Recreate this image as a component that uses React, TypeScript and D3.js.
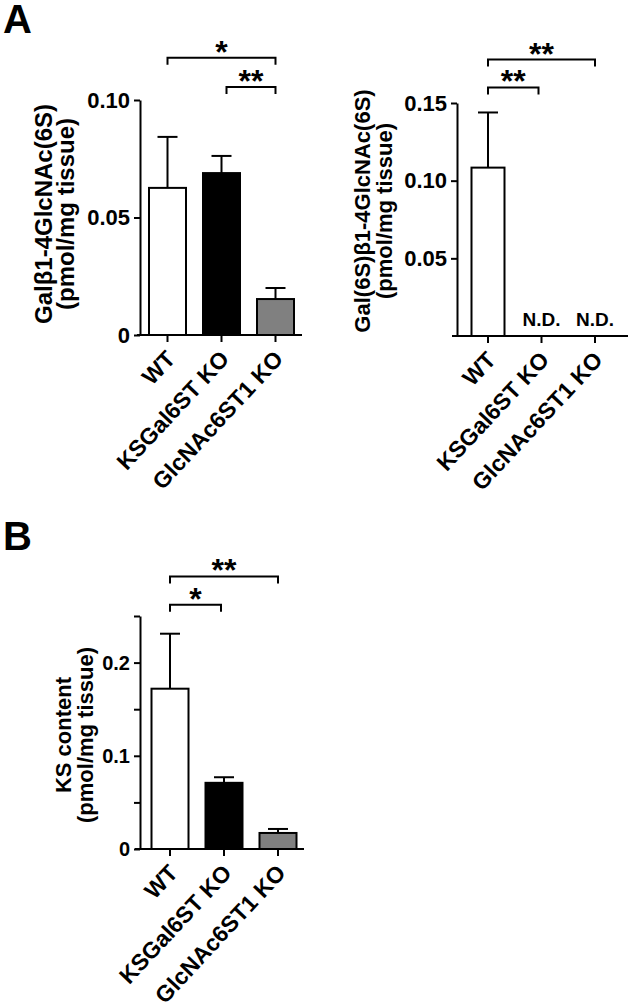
import { useEffect, useRef } from 'react';
import * as d3 from 'd3';

const groups = ['WT', 'KSGal6ST KO', 'GlcNAc6ST1 KO'];
const barFills = ['#ffffff', '#000000', '#808080'];

// Gal-GlcNAc(6S)
const galMeans = [0.0626, 0.0689, 0.0153];
const galErrors = [0.0217, 0.0073, 0.0047];
const galTicks = [0, 0.05, 0.1];
const galBrackets = [
    { from: 0, to: 2, label: '*', level: 0.118 },
    { from: 1, to: 2, label: '**', level: 0.1055 },
];

// Gal(6S)-GlcNAc(6S), not detected in the KO mice
const gal6sMeans = [0.1084, null, null];
const gal6sErrors = [0.0355, null, null];
const gal6sTicks = [0.05, 0.1, 0.15];
const gal6sBrackets = [
    { from: 0, to: 2, label: '**', level: 0.178 },
    { from: 0, to: 1, label: '**', level: 0.16 },
];

// KS content
const ksMeans = [0.172, 0.071, 0.0172];
const ksErrors = [0.059, 0.006, 0.0043];
const ksTicks = [0, 0.05, 0.1, 0.15, 0.2, 0.25];
const ksTickLabels = [0, 0.1, 0.2];
const ksBrackets = [
    { from: 0, to: 2, label: '**', level: 0.2925 },
    { from: 0, to: 1, label: '*', level: 0.262 },
];

const FONT = '"Liberation Sans", Arial, Helvetica, sans-serif';

const drawPanel = (svg, p) => {
    const g = svg.append('g');
    const y = d3.scaleLinear().domain(p.yDomain).range(p.yRange);
    const x = d3.scalePoint().domain(groups).range(p.xRange);
    const base = y(0);

    // y axis
    const yAxis = g.append('g')
        .attr('transform', `translate(${p.axisX}, 0)`)
        .call(d3.axisLeft(y)
            .tickValues(p.ticks)
            .tickSize(6)
            .tickSizeOuter(0)
            .tickPadding(4)
            .tickFormat(d => (p.labels.includes(d) ? p.fmt(d) : '')));
    yAxis.select('.domain').attr('stroke-width', 2);
    yAxis.selectAll('line').attr('stroke-width', 2);
    yAxis.selectAll('text')
        .attr('font-family', FONT)
        .attr('font-weight', 'bold')
        .attr('font-size', p.tickFont)
        .attr('fill', '#000');

    // x axis line + ticks
    g.append('line')
        .attr('x1', p.xLine[0]).attr('x2', p.xLine[1])
        .attr('y1', base).attr('y2', base)
        .attr('stroke', '#000').attr('stroke-width', 2);
    g.selectAll('.xtick')
        .data(groups)
        .enter()
        .append('line')
        .attr('x1', d => x(d)).attr('x2', d => x(d))
        .attr('y1', base).attr('y2', base + 7)
        .attr('stroke', '#000').attr('stroke-width', 2);
    g.selectAll('.xlabel')
        .data(groups)
        .enter()
        .append('text')
        .attr('transform', d => `translate(${x(d) + 9}, ${base + 25}) rotate(-47)`)
        .attr('text-anchor', 'end')
        .attr('font-family', FONT)
        .attr('font-weight', 'bold')
        .attr('font-size', 23)
        .text(d => d);

    // bars
    groups.forEach((grp, i) => {
        const m = p.means[i];
        const cx = x(grp);
        if (m === null) {
            g.append('text')
                .attr('x', cx).attr('y', base - 10)
                .attr('text-anchor', 'middle')
                .attr('font-family', FONT)
                .attr('font-weight', 'bold')
                .attr('font-size', 19)
                .text('N.D.');
            return;
        }
        const top = y(m + p.errors[i]);
        g.append('line')
            .attr('x1', cx).attr('x2', cx)
            .attr('y1', y(m)).attr('y2', top)
            .attr('stroke', '#000').attr('stroke-width', 2);
        g.append('line')
            .attr('x1', cx - 10).attr('x2', cx + 10)
            .attr('y1', top).attr('y2', top)
            .attr('stroke', '#000').attr('stroke-width', 2);
        g.append('rect')
            .attr('x', cx - p.barW / 2)
            .attr('y', y(m))
            .attr('width', p.barW)
            .attr('height', base - y(m))
            .attr('fill', barFills[i])
            .attr('stroke', '#000')
            .attr('stroke-width', 2);
    });

    // significance brackets
    p.brackets.forEach(b => {
        const by = y(b.level);
        const x1 = x(groups[b.from]) + (b.from > 0 ? 5 : 0);
        const x2 = x(groups[b.to]) - (b.to < 2 ? 3 : 0);
        g.append('path')
            .attr('d', `M${x1},${by + 7}V${by}H${x2}V${by + 7}`)
            .attr('fill', 'none')
            .attr('stroke', '#000')
            .attr('stroke-width', 2);
        g.append('text')
            .attr('x', (x1 + x2) / 2).attr('y', by + 5)
            .attr('text-anchor', 'middle')
            .attr('font-family', FONT)
            .attr('font-weight', 'bold')
            .attr('font-size', 32)
            .text(b.label);
    });

    // y label
    p.yLabel.forEach((line, i) => {
        g.append('text')
            .attr('transform', `translate(${p.labelX[i]}, ${p.labelY}) rotate(-90)`)
            .attr('text-anchor', 'middle')
            .attr('font-family', FONT)
            .attr('font-weight', 'bold')
            .attr('font-size', p.labelFont)
            .text(line);
    });
};

const App = () => {
    const ref = useRef(null);

    useEffect(() => {
        const svg = d3.select(ref.current);
        svg.selectAll('*').remove();

        svg.append('rect').attr('width', 628).attr('height', 1003).attr('fill', '#fff');

        drawPanel(svg, {
            means: galMeans, errors: galErrors, ticks: galTicks, labels: galTicks,
            fmt: d => (d === 0 ? '0' : d3.format('.2f')(d)),
            brackets: galBrackets,
            yDomain: [0, 0.1], yRange: [335, 100],
            xRange: [167.5, 275.5], axisX: 140, xLine: [137, 302], barW: 37,
            tickFont: 22,
            yLabel: ['Galβ1-4GlcNAc(6S)', '(pmol/mg tissue)'],
            labelX: [52, 74], labelY: 214, labelFont: 24,
        });

        drawPanel(svg, {
            means: gal6sMeans, errors: gal6sErrors, ticks: gal6sTicks, labels: gal6sTicks,
            fmt: d => d3.format('.2f')(d),
            brackets: gal6sBrackets,
            yDomain: [0, 0.15], yRange: [336, 103],
            xRange: [488, 595], axisX: 457, xLine: [452, 628], barW: 33,
            tickFont: 22,
            yLabel: ['Gal(6S)β1-4GlcNAc(6S)', '(pmol/mg tissue)'],
            labelX: [370, 392], labelY: 211, labelFont: 22,
        });

        drawPanel(svg, {
            means: ksMeans, errors: ksErrors, ticks: ksTicks, labels: ksTickLabels,
            fmt: d => (d === 0 ? '0' : d3.format('.1f')(d)),
            brackets: ksBrackets,
            yDomain: [0, 0.25], yRange: [849, 616],
            xRange: [170, 278], axisX: 140, xLine: [135, 304], barW: 37,
            tickFont: 20,
            yLabel: ['KS content', '(pmol/mg tissue)'],
            labelX: [71, 93], labelY: 735, labelFont: 22,
        });

        svg.append('text')
            .attr('x', 3).attr('y', 33)
            .attr('font-family', FONT).attr('font-weight', 'bold').attr('font-size', 40)
            .text('A');
        svg.append('text')
            .attr('x', 3).attr('y', 550)
            .attr('font-family', FONT).attr('font-weight', 'bold').attr('font-size', 40)
            .text('B');
    }, []);

    return (
        <svg ref={ref} width={628} height={1003}
            style={{ position: 'absolute', left: 0, top: 0, display: 'block' }} />
    );
};

export default App;
